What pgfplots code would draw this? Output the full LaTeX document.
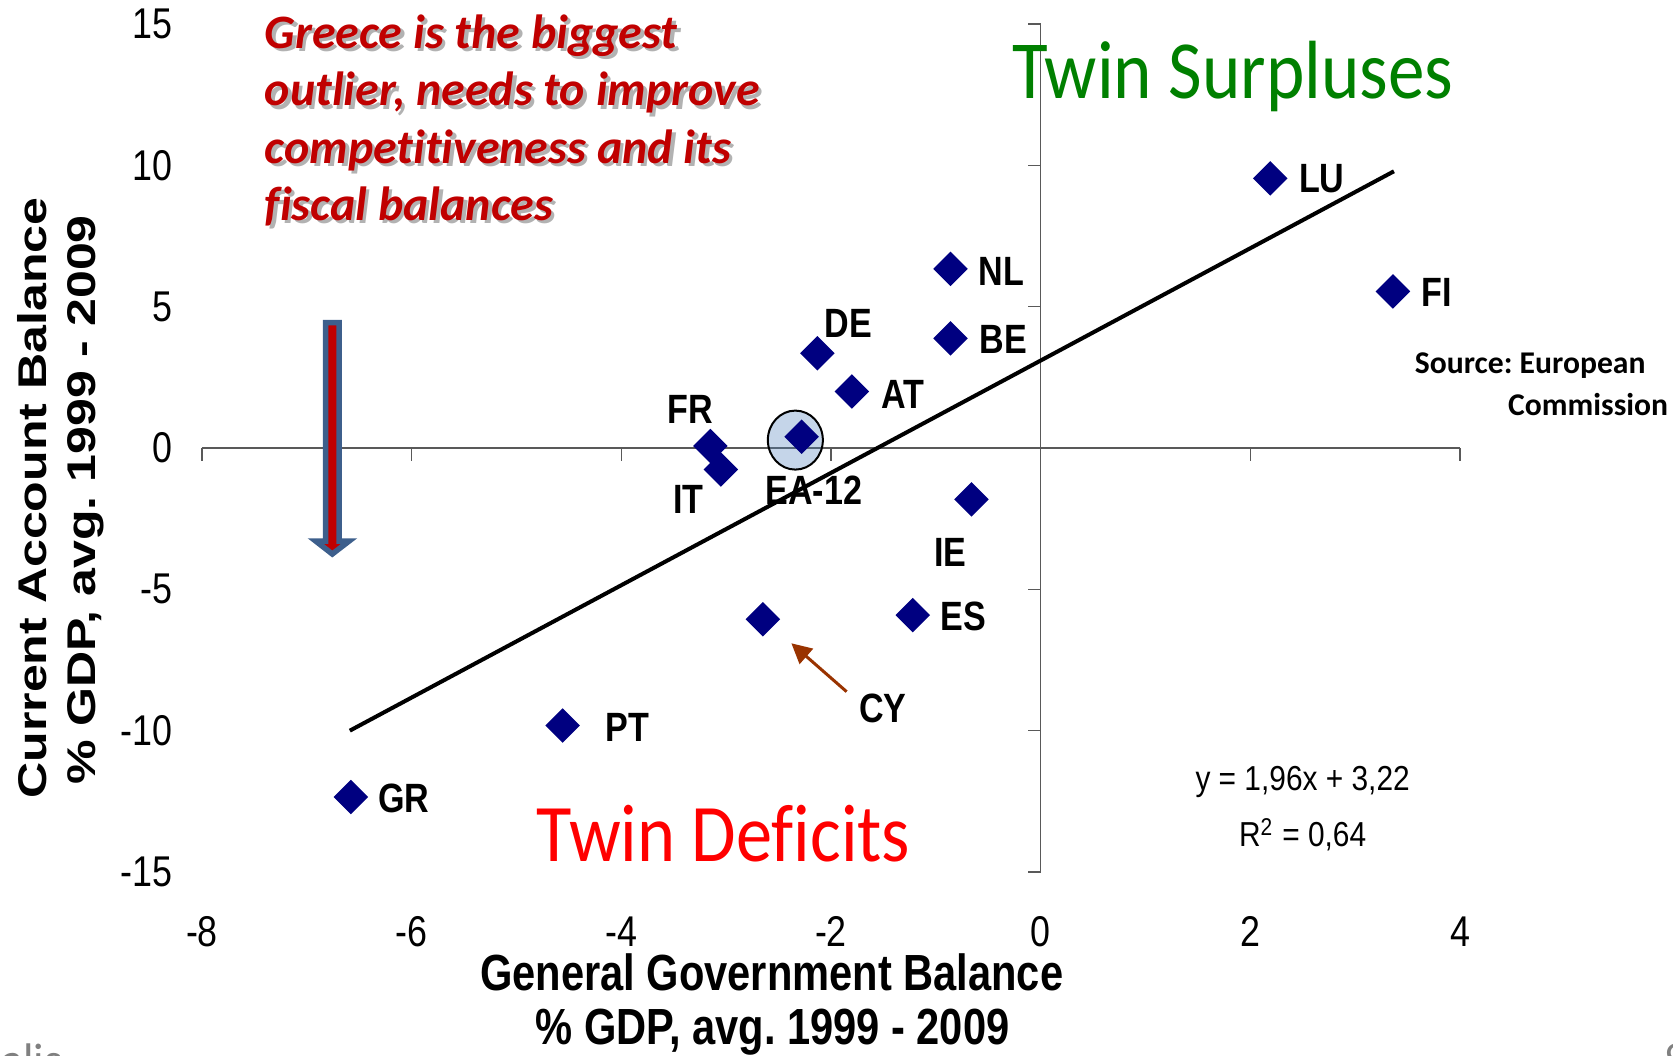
\documentclass[border=0pt]{standalone}
\usepackage{fontspec}
\usepackage{pgfplots}
\pgfplotsset{compat=1.18}
\usetikzlibrary{arrows.meta}
\frenchspacing
\newfontfamily\arial{Liberation Sans}
\newfontfamily\calibri[Ligatures=NoCommon]{Carlito}
\definecolor{navyD}{HTML}{000080}
\definecolor{accent}{HTML}{4F81BD}
\definecolor{darkred}{HTML}{C00000}
\definecolor{arrowblue}{HTML}{3D5F8C}
\definecolor{cybrown}{HTML}{993300}
\definecolor{twingreen}{HTML}{008000}
\definecolor{twinred}{HTML}{FF0000}
\newcommand\vs[2][1.2]{\scalebox{1}[#1]{#2}}
\newcommand\tickfont{\arial\fontsize{10.2}{12}\selectfont}
\newcommand\cfont{\arial\bfseries\fontsize{9.7}{11}\selectfont}
\newcommand\labfont{\arial\bfseries\fontsize{11.4}{13}\selectfont}
\newcommand\xlabfont{\arial\bfseries\fontsize{11.85}{13}\selectfont}
\newcommand\redfont{\calibri\bfseries\itshape\fontsize{13.65}{16}\selectfont}
\newcommand\redline[2]{%
  \node[anchor=base west, inner sep=0, text=black, opacity=0.3, font=\redfont] at ([xshift=0.35mm,yshift=-0.35mm]axis cs:-7.407,#1) {#2};
  \node[anchor=base west, inner sep=0, text=darkred, font=\redfont] at (axis cs:-7.407,#1) {#2};}
\newcommand\clab[3]{\node[inner sep=0, font=\cfont] at (axis cs:#1,#2) {\vs{#3}};}
\begin{document}
\begin{tikzpicture}
\useasboundingbox (0,0) rectangle (167.3mm,105.5mm);
\begin{axis}[
  at={(20.2mm,18.3mm)}, anchor=south west,
  scale only axis, width=125.8mm, height=84.8mm,
  xmin=-8, xmax=4, ymin=-15, ymax=15,
  axis line style={draw=none}, major tick style={draw=none},
  xtick={-8,-6,-4,-2,0,2,4}, ytick={-15,-10,-5,0,5,10,15},
  xticklabels={\vs{-8},\vs{-6},\vs{-4},\vs{-2},\vs{0},\vs{2},\vs{4}},
  yticklabels={\vs{-15},\vs{-10},\vs{-5},\vs{0},\vs{5},\vs{10},\vs{15}},
  xticklabel style={font=\tickfont, anchor=center, yshift=-5.95mm, inner sep=0},
  yticklabel style={font=\tickfont, anchor=east, xshift=-2.9mm, inner sep=0},
  clip=false,
]
% axis lines through the origin
\draw[black!65, line width=0.12mm] (axis cs:-8,0) -- (axis cs:4,0);
\draw[black!65, line width=0.12mm] (axis cs:0,-15) -- (axis cs:0,15);
\pgfplotsinvokeforeach{-8,-6,-4,-2,0,2,4}{\draw[black!65, line width=0.12mm] (axis cs:#1,0) -- ++(0pt,-1.3mm);}
\pgfplotsinvokeforeach{-15,-10,-5,0,5,10,15}{\draw[black!65, line width=0.12mm] (axis cs:0,#1) -- ++(-1.3mm,0pt);}

% big arrow
\draw[fill=darkred, draw=arrowblue, line width=0.55mm, miter limit=10]
  (axis cs:-6.821,4.439) -- (axis cs:-6.821,-3.290) -- (axis cs:-6.916,-3.290) -- (axis cs:-6.757,-3.750)
  -- (axis cs:-6.596,-3.290) -- (axis cs:-6.693,-3.290) -- (axis cs:-6.693,4.439) -- cycle;

% trend line
\addplot[black, line width=0.4mm] coordinates {(-6.59,-10.0) (3.37,9.79)};

% data
\addplot[only marks, mark=square*, mark size=1.15mm, mark options={rotate=45, fill=navyD, draw=navyD}] table {
x y
2.19 9.54
3.36 5.54
-0.86 6.34
-0.86 3.88
-2.13 3.35
-1.80 2.00
-3.15 0.07
-3.05 -0.76
-2.28 0.40
-0.66 -1.82
-1.22 -5.91
-2.65 -6.06
-4.56 -9.82
-6.58 -12.35
};

% EA-12 circle
\draw[fill=accent, fill opacity=0.33, draw=black, line width=0.2mm] (axis cs:-2.34,0.28) ellipse [x radius=2.75mm, y radius=2.95mm];

% CY arrow
\draw[cybrown, line width=0.3mm, -{Triangle[length=2mm,width=2mm]}] (axis cs:-1.851,-8.620) -- (axis cs:-2.378,-6.908);

% country labels
\clab{2.681}{9.515}{LU}
\clab{3.778}{5.518}{FI}
\clab{-0.372}{6.261}{NL}
\clab{-0.353}{3.856}{BE}
\clab{-1.832}{4.422}{DE}
\clab{-1.316}{1.910}{AT}
\clab{-3.339}{1.380}{FR}
\clab{-3.358}{-1.804}{IT}
\clab{-2.165}{-1.486}{EA-12}
\clab{-0.859}{-3.679}{IE}
\clab{-0.735}{-5.943}{ES}
\clab{-1.507}{-9.197}{CY}
\clab{-3.940}{-9.869}{PT}
\clab{-6.077}{-12.381}{GR}

% equation
\node[inner sep=0, font=\arial\fontsize{8.5}{10}\selectfont] at (axis cs:2.499,-11.815) {\vs[1.16]{y = 1,96x + 3,22}};
\node[inner sep=0, font=\arial\fontsize{8.5}{10}\selectfont] at (axis cs:2.499,-13.69) {\vs[1.16]{R\textsuperscript{2} = 0,64}};

% source
\node[inner sep=0, font=\calibri\bfseries\fontsize{9}{11}\selectfont] at (axis cs:4.670,2.901) {Source: European};
\node[inner sep=0, font=\calibri\bfseries\fontsize{9}{11}\selectfont] at (axis cs:5.223,1.556) {Commission};

% twin texts
\node[anchor=base, inner sep=0, text=twingreen, font=\calibri\fontsize{20.8}{24}\selectfont] at (axis cs:1.832,12.381) {\vs[1.13]{Twin Surpluses}};
\node[anchor=base, inner sep=0, text=twinred, font=\calibri\fontsize{20.6}{24}\selectfont] at (axis cs:-3.024,-14.645) {\vs[1.13]{Twin Deficits}};

% red annotation
\redline{14.149}{Greece is the biggest}
\redline{12.112}{outlier, needs to improve}
\redline{10.081}{competitiveness and its}
\redline{8.065}{fiscal balances}

% axis titles
\node[inner sep=0, font=\xlabfont] at (axis cs:-2.566,-18.55) {\vs[1.22]{General Government Balance}};
\node[inner sep=0, font=\xlabfont] at (axis cs:-2.557,-20.65) {\vs[1.22]{\% GDP, avg. 1999 - 2009}};
\node[inner sep=0, rotate=90, font=\labfont] at (axis cs:-9.616,-1.769) {\scalebox{1.25}[1]{Current Account Balance}};
\node[inner sep=0, rotate=90, font=\labfont] at (axis cs:-9.110,-1.839) {\scalebox{1.25}[1]{\% GDP, avg. 1999 - 2009}};

% slide remnants
\node[anchor=north west, inner sep=0, text=gray, font=\calibri\fontsize{13}{14}\selectfont] at (axis cs:-9.92,-21.05) {alis};
\node[anchor=north west, inner sep=0, text=gray, font=\calibri\fontsize{13}{14}\selectfont] at (axis cs:5.943,-21.05) {9};
\end{axis}
\end{tikzpicture}
\end{document}
